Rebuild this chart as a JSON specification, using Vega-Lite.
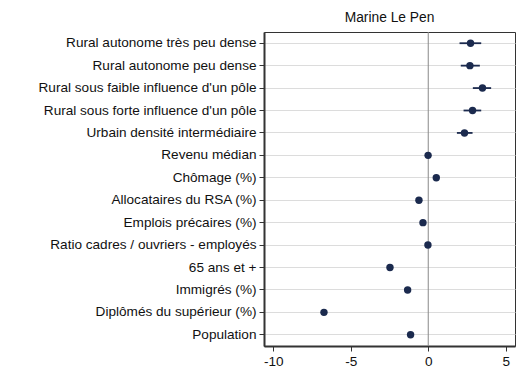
{
  "$schema": "https://vega.github.io/schema/vega-lite/v6.json",
  "width": 251,
  "height": 314,
  "padding": {"left": 38, "top": 10, "right": 10, "bottom": 10},
  "background": "white",
  "title": {"text": "Marine Le Pen", "fontSize": 13.8, "fontWeight": "normal", "font": "Liberation Sans", "color": "#111", "anchor": "middle", "offset": 7},
  "data": {"values": [
    {"term": "Rural autonome très peu dense", "coef": 2.73, "lo": 2.02, "hi": 3.42},
    {"term": "Rural autonome peu dense", "coef": 2.69, "lo": 2.1, "hi": 3.33},
    {"term": "Rural sous faible influence d'un pôle", "coef": 3.5, "lo": 2.88, "hi": 4.06},
    {"term": "Rural sous forte influence d'un pôle", "coef": 2.86, "lo": 2.28, "hi": 3.42},
    {"term": "Urbain densité intermédiaire", "coef": 2.34, "lo": 1.85, "hi": 2.86},
    {"term": "Revenu médian", "coef": -0.01, "lo": -0.15, "hi": 0.13},
    {"term": "Chômage (%)", "coef": 0.52, "lo": 0.38, "hi": 0.66},
    {"term": "Allocataires du RSA (%)", "coef": -0.6, "lo": -0.74, "hi": -0.46},
    {"term": "Emplois précaires (%)", "coef": -0.34, "lo": -0.48, "hi": -0.2},
    {"term": "Ratio cadres / ouvriers - employés", "coef": -0.02, "lo": -0.14, "hi": 0.1},
    {"term": "65 ans et +", "coef": -2.47, "lo": -2.6, "hi": -2.34},
    {"term": "Immigrés (%)", "coef": -1.33, "lo": -1.46, "hi": -1.2},
    {"term": "Diplômés du supérieur (%)", "coef": -6.73, "lo": -6.88, "hi": -6.58},
    {"term": "Population", "coef": -1.14, "lo": -1.26, "hi": -1.02}
  ]},
  "encoding": {
    "y": {"field": "term", "type": "nominal", "sort": null, "title": null,
      "axis": {"grid": true, "gridColor": "#dcdcdc", "gridWidth": 1, "domainColor": "#333", "domainWidth": 2, "tickColor": "#333", "tickSize": 5, "labelPadding": 3, "labelFont": "Liberation Sans", "labelFontSize": 13.6, "labelColor": "#111", "labelLimit": 400}}
  },
  "layer": [
    {"mark": {"type": "rule", "color": "#888", "strokeWidth": 1}, "data": {"values": [{"z": 0}]}, "encoding": {"x": {"field": "z", "type": "quantitative"}, "y": null}},
    {"mark": {"type": "rule", "color": "#1b2a4e", "strokeWidth": 1.8},
     "encoding": {"x": {"field": "lo", "type": "quantitative", "scale": {"domain": [-10.6, 5.6], "nice": false, "zero": false}, "title": null,
        "axis": {"values": [-10, -5, 0, 5], "labelExpr": "'' + datum.value", "grid": false, "domainColor": "#333", "domainWidth": 2, "tickColor": "#333", "tickSize": 5, "labelFont": "Liberation Sans", "labelFontSize": 13.6, "labelColor": "#111", "labelPadding": 3}},
       "x2": {"field": "hi"}}},
    {"mark": {"type": "circle", "color": "#1b2a4e", "opacity": 1, "size": 55},
     "encoding": {"x": {"field": "coef", "type": "quantitative"}}}
  ],
  "config": {"view": {"stroke": "#333", "strokeWidth": 1}}
}
